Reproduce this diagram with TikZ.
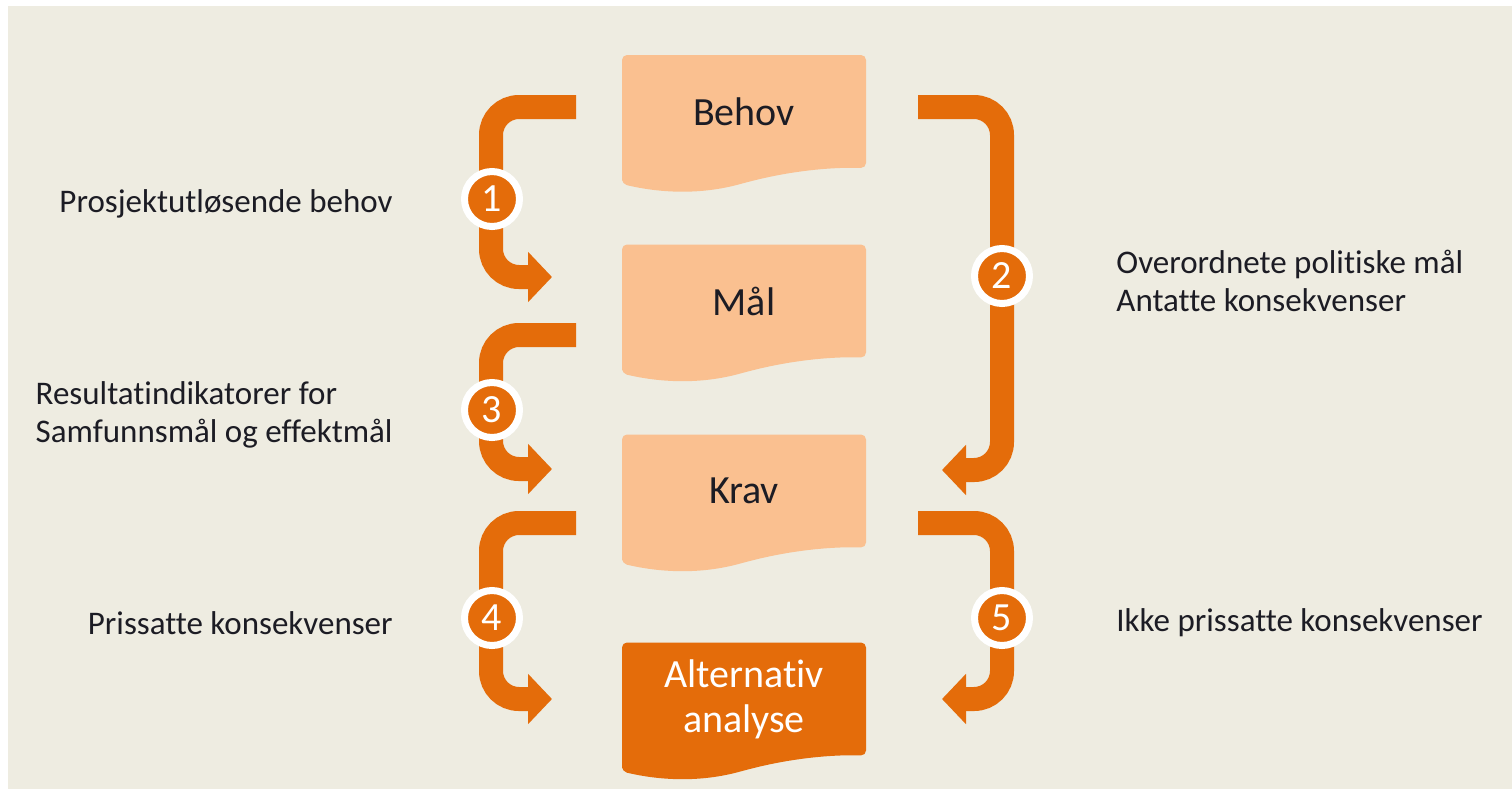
\documentclass[tikz,border=0pt]{standalone}
\usepackage{fontspec}
\setmainfont{Carlito}[Ligatures=NoCommon]
\usetikzlibrary{arrows.meta,calc,positioning}
\definecolor{accent}{HTML}{E46C0A}
\definecolor{peach}{HTML}{FAC090}
\definecolor{paper}{HTML}{EEECE1}
\definecolor{ink}{HTML}{1C1C24}
\pgfdeclarelayer{paper}
\pgfdeclarelayer{sheets}
\pgfsetlayers{paper,sheets,main}
\begin{document}
\begin{tikzpicture}[x=0.5pt,y=-0.5pt,
    doc/.style = {rectangle, inner sep=0pt, outer sep=0pt, minimum width=122pt, minimum height=56.5pt,
                  font=\fontsize{20}{22.5}\selectfont, text=ink, align=center},
    band/.style = {draw=accent, line width=12pt, rounded corners=14pt,
                   -{Triangle[length=12pt,width=24.5pt]}},
    badge/.style = {circle, fill=accent, draw=white, line width=3.5pt, minimum size=27.5pt,
                    inner sep=0pt, text=white, font=\fontsize{20}{20}\selectfont},
    note/.style = {inner sep=0pt, yshift=-2.5pt, font=\fontsize{16.5}{19}\selectfont, text=ink, align=left}]
    \useasboundingbox (0,0) rectangle (1512,789);
    \begin{pgfonlayer}{paper}
        \fill[white] (0,0) rectangle (1512,789);
        \fill[paper] (8,6) rectangle (1512,789);
    \end{pgfonlayer}

    % the four sheets
    \node[doc] (behov) at (744,111.5) {Behov};
    \node[doc] (mal) at (744,301) {Mål};
    \node[doc] (krav) at (744,491) {Krav};
    \node[doc, text=white] (alt) at (744,699) {Alternativ\\analyse};

    \begin{pgfonlayer}{sheets}
        \foreach \n/\c in {behov/peach, mal/peach, krav/peach, alt/accent}
            \fill[\c, rounded corners=2.5pt, shift={(\n.south west)}]
                (0,16) -- (0,-113) -- (244,-113) -- (244,0)
                .. controls (208,-1) and (168,3) .. (122,15)
                .. controls (78,27) and (38,25) .. (0,16) -- cycle;
    \end{pgfonlayer}

    % arrows
    \draw[band] ($(behov.west)+(-46,-4.5)$) -- ++(-85,0) |- ($(mal.west)+(-70,-24)$);
    \draw[band] ($(mal.west)+(-46,34)$) -- ++(-85,0) |- ($(krav.west)+(-70,-22)$);
    \draw[band] ($(krav.west)+(-46,32)$) -- ++(-85,0) |- ($(alt.west)+(-70,0)$);
    \draw[band] ($(behov.east)+(52,-4.5)$) -- ++(84,0) |- ($(krav.east)+(76,-21)$);
    \draw[band] ($(krav.east)+(52,32)$) -- ++(84,0) |- ($(alt.east)+(76,0)$);

    \node[badge] (num1) at (492,199) {1};
    \node[badge] (num2) at (1002,276) {2};
    \node[badge] (num3) at (492,410) {3};
    \node[badge] (num4) at (492,618) {4};
    \node[badge] (num5) at (1002,618) {5};

    \node[note, left=34pt of num1] (lbl1) {Prosjektutløsende behov};
    \node[note, right=41.5pt of num2] (lbl2) {Overordnete politiske mål\\Antatte konsekvenser};
    \node[note, left=34pt of num3] (lbl3) {Resultatindikatorer for\\Samfunnsmål og effektmål};
    \node[note, left=34pt of num4] (lbl4) {Prissatte konsekvenser};
    \node[note, right=41.5pt of num5] (lbl5) {Ikke prissatte konsekvenser};
\end{tikzpicture}
\end{document}
